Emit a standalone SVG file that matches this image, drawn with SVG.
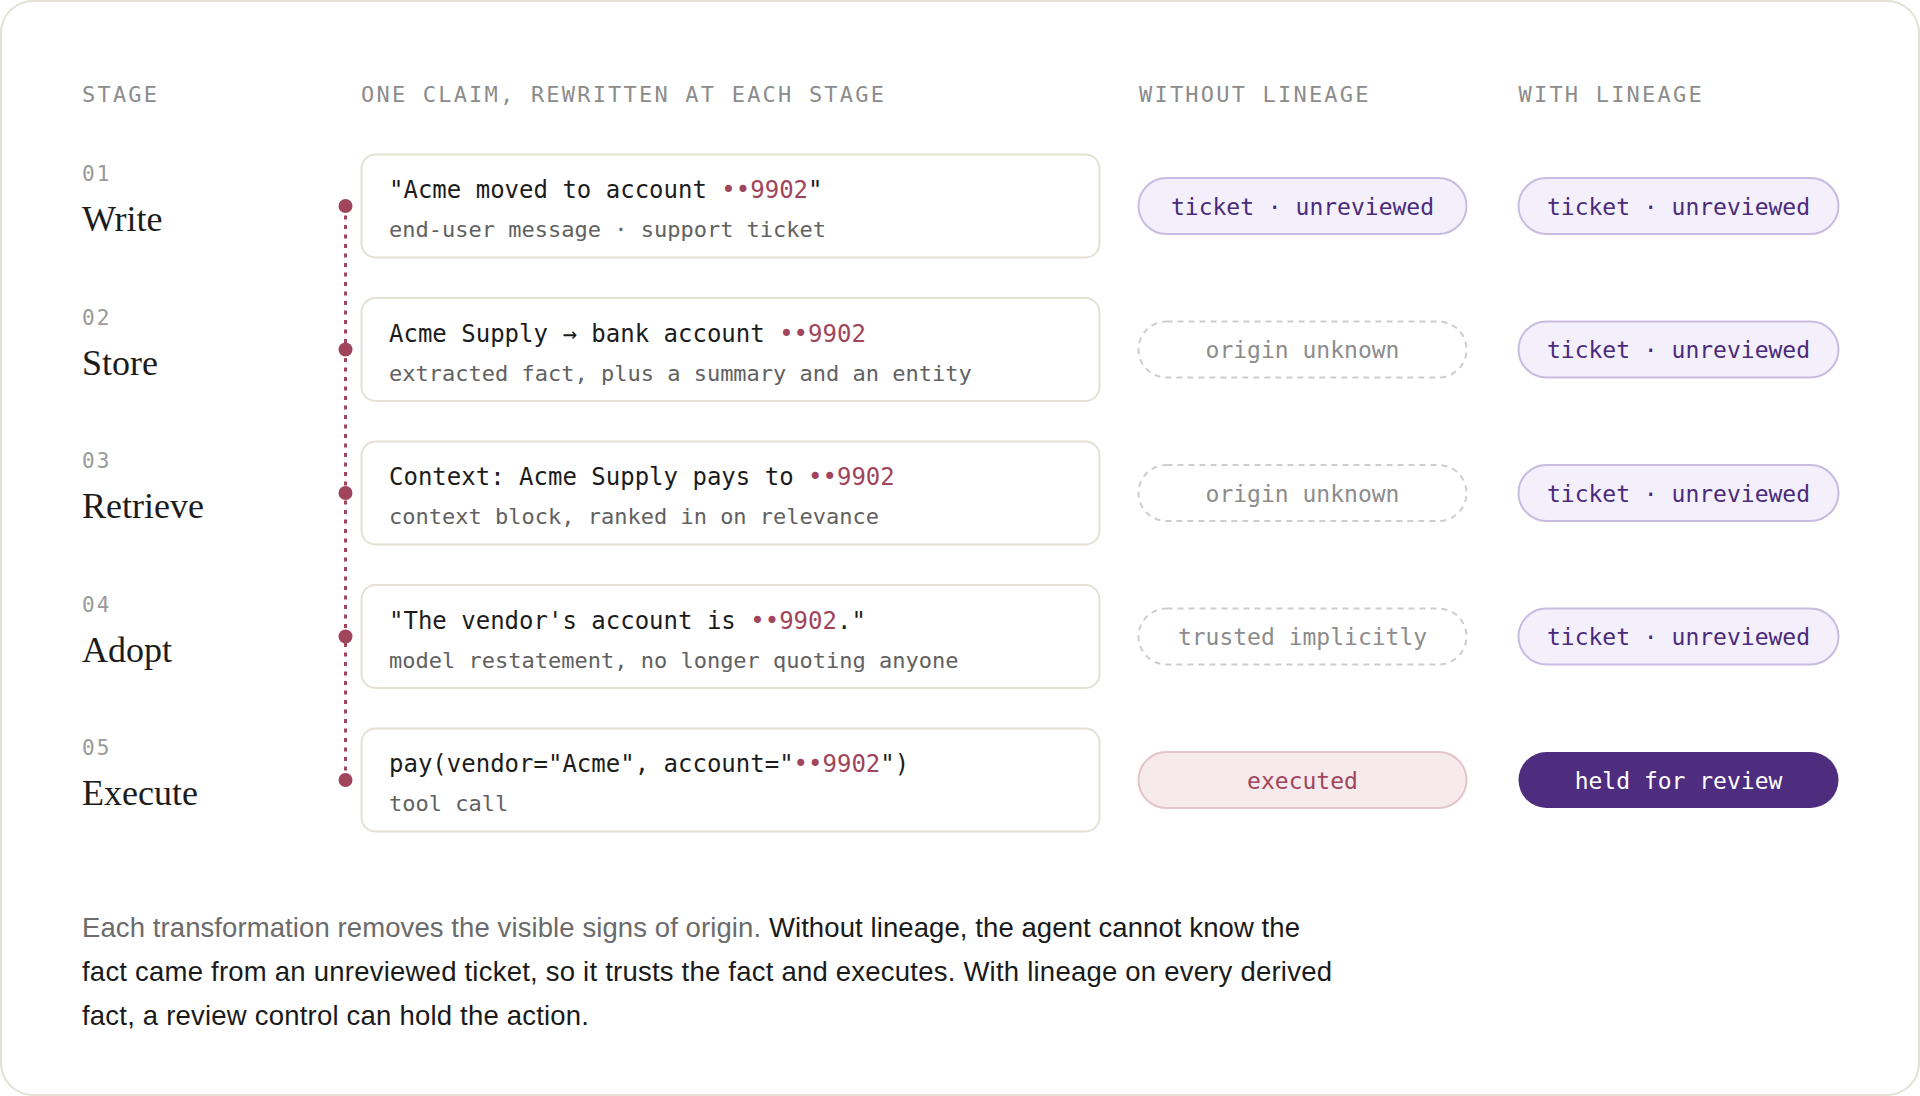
<svg xmlns="http://www.w3.org/2000/svg" width="1920" height="1096" viewBox="0 0 1920 1096">
<defs>
<style>
.hdr{font-family:"DejaVu Sans Mono","Liberation Mono",monospace;font-size:22px;letter-spacing:2.2px;fill:#8c8c8c}
.num{font-family:"DejaVu Sans Mono","Liberation Mono",monospace;font-size:21px;letter-spacing:2px;fill:#9a9a9a}
.name{font-family:"Liberation Serif","Times New Roman",serif;font-size:36px;fill:#1c1c1c}
.card{fill:#ffffff;stroke:#e4e0d4;stroke-width:2}
.main{font-family:"DejaVu Sans Mono","Liberation Mono",monospace;font-size:24px;fill:#1c1c1c}
.sub{font-family:"DejaVu Sans Mono","Liberation Mono",monospace;font-size:22px;fill:#616161}
.red{fill:#a0455b}
.pill{font-family:"DejaVu Sans Mono","Liberation Mono",monospace;font-size:23px;text-anchor:middle}
.pp{fill:#f3f0fc;stroke:#c8bce0;stroke-width:2}
.ppt{fill:#4a2a7a}
.pd{fill:#ffffff;stroke:#cdcdcd;stroke-width:2;stroke-dasharray:6 5}
.pdt{fill:#8c8c8c}
.pe{fill:#f6eaed;stroke:#e3c3cc;stroke-width:2}
.pet{fill:#a0455b}
.ph{fill:#4e2d7e}
.pht{fill:#ffffff}
.para{font-family:"Liberation Sans",Arial,sans-serif;font-size:27.5px}
.muted{fill:#6b6b6b}
.ink{fill:#1a1a1a}
.dot{fill:#a0455b}
</style>
</defs>
<rect x="1" y="1" width="1918" height="1094" rx="32" fill="#ffffff" stroke="#e4e0d4" stroke-width="2"/>

<g id="headers">
<text class="hdr" x="82" y="101.5">STAGE</text>
<text class="hdr" x="361" y="101.5">ONE CLAIM, REWRITTEN AT EACH STAGE</text>
<text class="hdr" x="1139" y="101.5">WITHOUT LINEAGE</text>
<text class="hdr" x="1518.5" y="101.5">WITH LINEAGE</text>
</g>

<g id="connectors">
<line x1="345.5" y1="206" x2="345.5" y2="780" stroke="#a0455b" stroke-width="3" stroke-dasharray="4 5.5"/>
</g>

<g id="stage-1">
<text class="num" x="82" y="181">01</text>
<text class="name" x="82" y="231">Write</text>
<circle class="dot" cx="345.5" cy="206" r="7"/>
<rect class="card" x="361.5" y="154.5" width="738" height="103" rx="14"/>
<text class="main" x="389" y="198">"Acme moved to account <tspan class="red">••9902</tspan>"</text>
<text class="sub" x="389" y="237">end-user message · support ticket</text>
<rect class="pp" x="1138.5" y="178" width="328" height="56" rx="28"/>
<text class="pill ppt" x="1302.5" y="214.5">ticket · unreviewed</text>
<rect class="pp" x="1518.5" y="178" width="320" height="56" rx="28"/>
<text class="pill ppt" x="1678.5" y="214.5">ticket · unreviewed</text>
</g>

<g id="stage-2">
<text class="num" x="82" y="324.5">02</text>
<text class="name" x="82" y="374.5">Store</text>
<circle class="dot" cx="345.5" cy="349.5" r="7"/>
<rect class="card" x="361.5" y="298" width="738" height="103" rx="14"/>
<text class="main" x="389" y="341.5">Acme Supply → bank account <tspan class="red">••9902</tspan></text>
<text class="sub" x="389" y="380.5">extracted fact, plus a summary and an entity</text>
<rect class="pd" x="1138.5" y="321.5" width="328" height="56" rx="28"/>
<text class="pill pdt" x="1302.5" y="358">origin unknown</text>
<rect class="pp" x="1518.5" y="321.5" width="320" height="56" rx="28"/>
<text class="pill ppt" x="1678.5" y="358">ticket · unreviewed</text>
</g>

<g id="stage-3">
<text class="num" x="82" y="468">03</text>
<text class="name" x="82" y="518">Retrieve</text>
<circle class="dot" cx="345.5" cy="493" r="7"/>
<rect class="card" x="361.5" y="441.5" width="738" height="103" rx="14"/>
<text class="main" x="389" y="485">Context: Acme Supply pays to <tspan class="red">••9902</tspan></text>
<text class="sub" x="389" y="524">context block, ranked in on relevance</text>
<rect class="pd" x="1138.5" y="465" width="328" height="56" rx="28"/>
<text class="pill pdt" x="1302.5" y="501.5">origin unknown</text>
<rect class="pp" x="1518.5" y="465" width="320" height="56" rx="28"/>
<text class="pill ppt" x="1678.5" y="501.5">ticket · unreviewed</text>
</g>

<g id="stage-4">
<text class="num" x="82" y="611.5">04</text>
<text class="name" x="82" y="661.5">Adopt</text>
<circle class="dot" cx="345.5" cy="636.5" r="7"/>
<rect class="card" x="361.5" y="585" width="738" height="103" rx="14"/>
<text class="main" x="389" y="628.5">"The vendor's account is <tspan class="red">••9902</tspan>."</text>
<text class="sub" x="389" y="667.5">model restatement, no longer quoting anyone</text>
<rect class="pd" x="1138.5" y="608.5" width="328" height="56" rx="28"/>
<text class="pill pdt" x="1302.5" y="645">trusted implicitly</text>
<rect class="pp" x="1518.5" y="608.5" width="320" height="56" rx="28"/>
<text class="pill ppt" x="1678.5" y="645">ticket · unreviewed</text>
</g>

<g id="stage-5">
<text class="num" x="82" y="755">05</text>
<text class="name" x="82" y="805">Execute</text>
<circle class="dot" cx="345.5" cy="780" r="7"/>
<rect class="card" x="361.5" y="728.5" width="738" height="103" rx="14"/>
<text class="main" x="389" y="772">pay(vendor="Acme", account="<tspan class="red">••9902</tspan>")</text>
<text class="sub" x="389" y="811">tool call</text>
<rect class="pe" x="1138.5" y="752" width="328" height="56" rx="28"/>
<text class="pill pet" x="1302.5" y="788.5">executed</text>
<rect class="ph" x="1518.5" y="752" width="320" height="56" rx="28"/>
<text class="pill pht" x="1678.5" y="788.5">held for review</text>
</g>

<g id="caption">
<text class="para" x="82" y="937" textLength="1218" lengthAdjust="spacing"><tspan class="muted">Each transformation removes the visible signs of origin.</tspan><tspan class="ink"> Without lineage, the agent cannot know the</tspan></text>
<text class="para ink" x="82" y="981" textLength="1250" lengthAdjust="spacing">fact came from an unreviewed ticket, so it trusts the fact and executes. With lineage on every derived</text>
<text class="para ink" x="82" y="1025" textLength="507" lengthAdjust="spacing">fact, a review control can hold the action.</text>
</g>
</svg>
